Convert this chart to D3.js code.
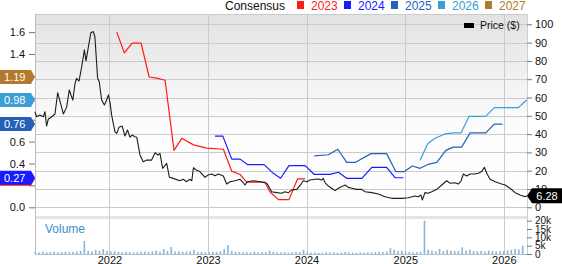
<!DOCTYPE html>
<html><head><meta charset="utf-8">
<script src="https://cdn.jsdelivr.net/npm/d3@7"></script>
<style>html,body{margin:0;padding:0;background:#fff;overflow:hidden}svg{display:block;font-family:Arial,"Liberation Sans",sans-serif}</style>
</head><body><svg id="c" width="562" height="264"></svg>
<script>
// ---------- DATA ----------
const priceSeries = [["2021-03-31",52.2],["2021-04-06",49.5],["2021-04-18",50.4],["2021-05-01",49.5],["2021-05-07",52.2],["2021-05-13",44.4],["2021-05-19",48.1],["2021-06-01",49.5],["2021-06-13",51],["2021-06-23",62.6],
["2021-07-02",57.7],["2021-07-14",51],["2021-07-26",54.6],["2021-08-05",64.1],["2021-08-18",58.6],["2021-08-26",67.4],["2021-09-01",70.5],["2021-09-10",69],["2021-09-20",76.8],["2021-09-30",86],
["2021-10-06",80],["2021-10-14",86.9],["2021-10-24",95.4],["2021-11-02",96],["2021-11-08",93.2],["2021-11-18",70.5],["2021-11-24",68.6],["2021-12-03",58.6],["2021-12-13",55.9],["2021-12-19",57.7],
["2021-12-28",61.4],["2022-01-03",57.2],["2022-01-09",50.4],["2022-01-21",41.3],["2022-01-28",40.4],["2022-02-05",43.7],["2022-02-17",44.4],["2022-02-27",39],["2022-03-09",42.2],["2022-03-18",38.3],
["2022-03-26",39.5],["2022-04-05",38.6],["2022-04-12",38.3],["2022-04-24",28.6],["2022-05-06",24.9],["2022-05-19",25.8],["2022-06-06",25.8],["2022-06-19",29.8],["2022-06-29",28.6],["2022-07-07",29.5],
["2022-07-17",21.3],["2022-08-01",24],["2022-08-11",16.4],["2022-08-25",15.8],["2022-09-19",14.5],["2022-10-01",15.3],["2022-10-14",14],["2022-10-26",15.3],["2022-11-02",14.5],["2022-11-08",21.6],
["2022-11-18",20.4],["2022-12-02",19.5],["2022-12-21",16.4],["2023-01-02",17.7],["2023-01-15",18.2],["2023-01-27",17.3],["2023-02-08",18.2],["2023-02-27",17.1],["2023-03-11",12.7],["2023-03-24",14],
["2023-04-11",14.5],["2023-04-30",15.3],["2023-05-12",13.4],["2023-05-18",12.2],["2023-05-27",14],["2023-06-18",14.5],["2023-07-13",14],["2023-08-07",13.1],["2023-08-25",8.5],["2023-09-13",8],
["2023-10-01",7.7],["2023-10-13",8.5],["2023-10-26",8],["2023-11-07",9.5],["2023-11-26",9.8],["2023-12-14",13.1],["2023-12-20",14.5],["2024-01-02",14],["2024-01-14",14.9],["2024-02-02",15.3],
["2024-02-14",15.5],["2024-02-26",14.9],["2024-03-03",15.8],["2024-03-10",13.4],["2024-03-22",11.6],["2024-04-03",10.4],["2024-04-16",9.1],["2024-04-28",10.4],["2024-05-11",11.3],["2024-05-23",12.2],
["2024-06-04",10.9],["2024-06-17",10.4],["2024-07-05",9.8],["2024-07-24",9.8],["2024-08-05",8.5],["2024-08-30",8],["2024-09-23",7.3],["2024-10-18",5.8],["2024-11-12",4.9],["2024-12-19",4.9],
["2025-01-12",5.2],["2025-02-06",6.2],["2025-02-18",5.8],["2025-02-28",6.7],["2025-03-05",4],["2025-03-15",8],["2025-03-27",7.7],["2025-04-09",8.5],["2025-04-28",9.8],["2025-05-16",12.2],
["2025-06-04",14.5],["2025-06-16",13.1],["2025-07-04",13.4],["2025-07-17",12.7],["2025-07-27",14.5],["2025-08-04",18.2],["2025-08-17",17.1],["2025-08-29",18.2],["2025-09-16",18.2],["2025-09-29",18.6],
["2025-10-11",19.5],["2025-10-21",21.9],["2025-10-30",18.6],["2025-11-11",15.3],["2025-11-30",14],["2025-12-24",12.7],["2026-01-06",12.2],["2026-01-24",10.4],["2026-02-12",8],["2026-03-02",6.7],
["2026-03-21",5.8],["2026-03-28",6.28]];

const cons2023 = [["2022-01-28",1.60],["2022-02-25",1.41],["2022-03-26",1.50],["2022-04-28",1.50],["2022-05-28",1.19],["2022-06-25",1.18],["2022-07-26",1.16],["2022-08-28",0.52],["2022-09-26",0.63],["2022-11-08",0.57],["2022-12-27",0.54],["2023-02-27",0.53],["2023-03-30",0.33],["2023-04-30",0.30],["2023-05-24",0.23],["2023-07-31",0.23],["2023-08-19",0.14],["2023-09-19",0.07],["2023-10-28",0.07],["2023-11-29",0.26],["2023-12-27",0.26]];
const cons2024 = [["2023-01-27",0.65],["2023-02-25",0.65],["2023-03-30",0.44],["2023-04-30",0.44],["2023-05-27",0.39],["2023-07-28",0.39],["2023-08-31",0.31],["2023-09-27",0.265],["2023-10-28",0.38],["2023-12-27",0.38],["2024-01-30",0.30],["2024-03-28",0.30],["2024-04-28",0.32],["2024-05-29",0.265],["2024-07-24",0.265],["2024-08-30",0.365],["2024-10-24",0.365],["2024-11-24",0.27],["2024-12-25",0.27]];
const cons2025 = [["2024-01-30",0.47],["2024-03-22",0.48],["2024-04-26",0.53],["2024-05-29",0.41],["2024-06-29",0.41],["2024-08-27",0.49],["2024-10-24",0.49],["2024-11-27",0.325],["2024-12-27",0.325],["2025-01-27",0.377],["2025-02-25",0.356],["2025-03-30",0.395],["2025-04-28",0.41],["2025-05-31",0.52],["2025-06-28",0.55],["2025-07-29",0.55],["2025-08-29",0.68],["2025-10-26",0.68],["2025-11-27",0.76],["2025-12-27",0.76]];
const cons2026 = [["2025-02-25",0.43],["2025-03-25",0.58],["2025-04-21",0.63],["2025-05-28",0.67],["2025-06-28",0.68],["2025-07-27",0.68],["2025-08-25",0.83],["2025-10-26",0.83],["2025-11-27",0.91],["2026-02-24",0.91],["2026-03-27",0.98]];
const cons2027 = [["2026-03-27",1.19]];

const seriesNames = ["2023","2024","2025","2026","2027"];
const seriesColors = ["#ff1a1a","#1a1aff","#2461b8","#3a9fd3","#b27a2c"];
const consensusData = [cons2023, cons2024, cons2025, cons2026, cons2027];
// badges whose label is hidden under another badge in the reference
const hiddenBadgeText = ["2023"];

// biweekly volume (thousands), starting 2021-04-01
const volumeStart = "2021-04-01";
const volumeK = [1.2,1.0,1.3,0.9,1.1,1.4,1.0,1.2,1.5,1.1,1.3,1.6,1.8,
7.8,
2.0,1.5,2.5,2.0,3.0,1.8,1.5,
1.6,1.2,1.0,1.3,1.1,0.9,1.0,1.2,1.4,1.1,1.5,
2.0,1.4,3.0,1.8,4.2,1.6,1.5,1.2,1.4,1.6,2.5,1.3,1.2,1.0,1.1,1.3,1.2,1.6,3.0,5.4,1.8,1.4,1.2,1.0,1.1,0.9,1.3,1.0,1.2,1.1,2.0,1.2,
1.0,0.9,1.1,0.8,1.0,1.3,1.1,
2.5,
1.0,0.8,0.9,0.7,0.8,1.0,0.9,1.1,0.8,0.9,1.2,1.0,0.8,0.7,0.9,0.8,1.0,0.9,1.1,1.3,1.2,1.5,
3.5,2.5,1.8,2.0,1.4,1.2,1.0,1.1,1.3,20,2.5,2.0,1.6,3.0,1.8,2.5,1.9,1.7,1.8,4.0,2.0,2.5,1.8,1.6,1.9,1.5,2.0,1.6,1.4,1.7,1.8,2.2,2.5,3.0,2.8,5.0];

const yearTicks = ["2022-01-01","2023-01-01","2024-01-01","2025-01-01","2026-01-01"];
const priceTicks = [0,10,20,30,40,50,60,70,80,90,100];
const epsTicks = [0,0.2,0.4,0.6,0.8,1.0,1.2,1.4,1.6];
const epsTicksCovered = [0.2,0.8,1.0,1.2]; // labels hidden behind the badges
const volumeTicks = [0,5,10,15,20];
const lastPrice = 6.28;

// ---------- CHART ----------
const parse = d3.timeParse("%Y-%m-%d");
const svg = d3.select("#c");
const L = 35, R = 527, T = 14, MB = 216, VT = 219, VB = 254;

const x = d3.scaleTime().domain([parse("2021-03-31"), parse("2026-03-28")]).range([L, R]);
const yR = d3.scaleLinear().domain([0, 100]).range([207.3, 24.3]);
const yL = d3.scaleLinear().domain([0, 1.6]).range([207.3, 32.1]);
const yV = d3.scaleLinear().domain([0, 20]).range([VB, 220.7]);

const defs = svg.append("defs");
const grad = defs.append("linearGradient").attr("id", "bg").attr("x1", 0).attr("y1", 0).attr("x2", 0).attr("y2", 1);
grad.append("stop").attr("offset", "0").attr("stop-color", "#e2e2e2");
grad.append("stop").attr("offset", "0.55").attr("stop-color", "#fcfcfc");
grad.append("stop").attr("offset", "1").attr("stop-color", "#ffffff");

svg.append("rect").attr("x", L).attr("y", T).attr("width", R - L).attr("height", MB - T).attr("fill", "url(#bg)");
svg.append("rect").attr("x", L).attr("y", MB).attr("width", R - L).attr("height", VT - MB).attr("fill", "#e4e4e4");

// grid
const grid = svg.append("g").attr("stroke", "#cbcbcb").attr("stroke-width", 1).attr("shape-rendering", "crispEdges");
grid.selectAll("line.h").data(priceTicks).join("line").attr("class", "h")
  .attr("x1", L).attr("x2", R).attr("y1", d => Math.round(yR(d)) + 0.5).attr("y2", d => Math.round(yR(d)) + 0.5);
grid.append("line").attr("x1", L).attr("x2", R).attr("y1", T + 0.5).attr("y2", T + 0.5);
grid.selectAll("line.v").data(yearTicks).join("line").attr("class", "v")
  .attr("x1", d => Math.round(x(parse(d))) + 0.5).attr("x2", d => Math.round(x(parse(d))) + 0.5).attr("y1", T).attr("y2", VB);
grid.append("line").attr("x1", L + 0.5).attr("x2", L + 0.5).attr("y1", T).attr("y2", VB).attr("stroke", "#bdbdbd");
grid.append("line").attr("x1", R + 0.5).attr("x2", R + 0.5).attr("y1", T).attr("y2", VB).attr("stroke", "#d0d0d0");
grid.append("line").attr("x1", L).attr("x2", R).attr("y1", VB + 0.5).attr("y2", VB + 0.5).attr("stroke", "#bdbdbd");

// volume bars
const vStart = parse(volumeStart);
svg.append("g").selectAll("rect").data(volumeK).join("rect")
  .attr("x", (d, i) => x(d3.timeDay.offset(vStart, i * 14)) - 0.8)
  .attr("width", 1.6)
  .attr("y", d => yV(d))
  .attr("height", d => VB - yV(d))
  .attr("fill", "#7fb6e2");

svg.append("text").attr("x", 45).attr("y", 233).attr("font-size", 12).attr("fill", "#3b8fcf").text("Volume");

// consensus lines
const lineL = d3.line().x(d => x(parse(d[0]))).y(d => yL(d[1]));
consensusData.forEach((s, i) => {
  if (s.length > 1) svg.append("path").attr("d", lineL(s)).attr("fill", "none")
    .attr("stroke", seriesColors[i]).attr("stroke-width", 1.2).attr("stroke-linejoin", "round");
});

// price line
const lineR = d3.line().x(d => x(parse(d[0]))).y(d => yR(d[1]));
svg.append("path").attr("d", lineR(priceSeries)).attr("fill", "none")
  .attr("stroke", "#1c1c1c").attr("stroke-width", 1.1).attr("stroke-linejoin", "round");

// axes
function styleAxis(size) {
  return g => {
    g.select(".domain").remove();
    g.selectAll(".tick line").attr("stroke", "#777");
    g.selectAll(".tick text").attr("fill", "#111").attr("font-size", size).attr("font-family", "Arial, 'Liberation Sans', sans-serif");
  };
}
svg.append("g").attr("transform", `translate(${R},0)`)
  .call(d3.axisRight(yR).tickValues(priceTicks).tickSize(5).tickPadding(3)).call(styleAxis(11));
const f1 = d3.format(".1f");
svg.append("g").attr("transform", `translate(${L},0)`)
  .call(d3.axisLeft(yL).tickValues(epsTicks)
    .tickFormat(d => epsTicksCovered.some(c => Math.abs(c - d) < 1e-9) ? "" : f1(d))
    .tickSize(6).tickPadding(4)).call(styleAxis(11));
svg.append("g").attr("transform", `translate(${R},0)`)
  .call(d3.axisRight(yV).tickValues(volumeTicks).tickFormat(d => d ? d + "k" : "0").tickSize(5).tickPadding(3)).call(styleAxis(10));
svg.append("g").attr("transform", `translate(0,${VB})`)
  .call(d3.axisBottom(x).tickValues(yearTicks.map(parse)).tickFormat(d3.timeFormat("%Y")).tickSize(0).tickPadding(2.2)).call(styleAxis(11));

// left badges (last consensus values)
const fmt2 = d3.format(".2f");
consensusData.forEach((s, i) => {
  const v = s[s.length - 1][1];
  const y = yL(v);
  const g = svg.append("g");
  g.append("path").attr("d", `M0,${y - 7}H31L35,${y}L31,${y + 7}H0Z`).attr("fill", seriesColors[i]);
  if (!hiddenBadgeText.includes(seriesNames[i]))
    g.append("text").attr("x", 4).attr("y", y + 4).attr("font-size", 11).attr("fill", "#fff").text(fmt2(v));
});

// right price badge
{
  const y = yR(lastPrice);
  svg.append("path").attr("d", `M${R},${y}L${R + 5},${y - 7.5}H562V${y + 7.5}H${R + 5}Z`).attr("fill", "#000");
  svg.append("text").attr("x", 547).attr("y", y + 4).attr("text-anchor", "middle").attr("font-size", 11).attr("fill", "#fff").text(lastPrice.toFixed(2));
}

// legend top
svg.append("text").attr("x", 225).attr("y", 9.5).attr("font-size", 12).attr("fill", "#111").text("Consensus");
seriesNames.forEach((n, i) => {
  const sx = 297 + i * 47;
  svg.append("rect").attr("x", sx).attr("y", 1).attr("width", 7).attr("height", 8).attr("fill", seriesColors[i]);
  svg.append("text").attr("x", sx + 14).attr("y", 9.5).attr("font-size", 12).attr("fill", seriesColors[i]).text(n);
});

// price legend
svg.append("rect").attr("x", 464).attr("y", 23).attr("width", 10).attr("height", 5).attr("fill", "#000");
svg.append("text").attr("x", 480).attr("y", 29.3).attr("font-size", 10.5).attr("fill", "#111").text("Price ($)");
</script></body></html>
